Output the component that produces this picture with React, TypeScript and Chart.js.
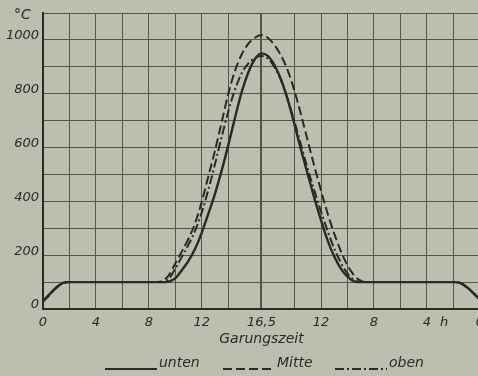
import React, { useEffect, useRef } from "react";
import { Chart, registerables } from "chart.js";

Chart.register(...registerables);

// Time axis (hours): 0 … 16.5 heating, then 16.5 … 0 counted back (plotted as 16.5 … 33)
const TIME = [0, 0.5, 1, 1.5, 2, 4, 6, 8, 8.5, 9, 9.5, 10, 10.5, 11, 11.5, 12, 12.5, 13, 13.5, 14, 14.5, 15, 15.5, 16, 16.5, 17, 17.5, 18, 18.5, 19, 19.5, 20, 20.5, 21, 21.5, 22, 22.5, 23, 23.5, 24, 24.5, 26, 28, 30, 31, 31.5, 32, 32.5, 33];

const UNTEN = [30, 55, 80, 97, 100, 100, 100, 100, 100, 100, 102, 115, 145, 180, 225, 285, 355, 430, 515, 610, 710, 805, 878, 928, 950, 940, 905, 850, 775, 685, 590, 500, 412, 330, 255, 195, 150, 120, 103, 100, 100, 100, 100, 100, 100, 97, 82, 60, 35];
const MITTE = [28, 52, 78, 96, 100, 100, 100, 100, 100, 105, 125, 170, 215, 262, 320, 400, 495, 590, 695, 800, 885, 945, 985, 1008, 1018, 1007, 980, 940, 885, 810, 720, 625, 530, 440, 355, 280, 215, 162, 125, 105, 100, 100, 100, 100, 100, 97, 82, 58, 33];
const OBEN = [29, 54, 79, 96, 100, 100, 100, 100, 100, 100, 112, 150, 195, 240, 292, 360, 445, 540, 640, 735, 815, 875, 912, 933, 940, 930, 898, 848, 778, 695, 608, 520, 440, 362, 290, 225, 172, 132, 108, 100, 100, 100, 100, 100, 100, 97, 82, 59, 34];

const SERIES_NAMES = ["unten", "Mitte", "oben"];
const X_GRID = [0, 2, 4, 6, 8, 10, 12, 14, 16.5, 19, 21, 23, 25, 27, 29, 31, 33];
const X_TICK_VALUES = [0, 4, 8, 12, 16.5, 21, 25, 29, 33];
const X_TICK_LABELS = ["0", "4", "8", "12", "16,5", "12", "8", "4", "0"];
const Y_TICK_LABELS = [0, 200, 400, 600, 800, 1000];
const X_TITLE = "Garungszeit";
const Y_UNIT = "°C";
const X_UNIT = "h";

const BG = "#bebeb0";
const INK = "#2a2a24";
const GRID = "#55554b";
const FONT = '"DejaVu Sans", sans-serif';

const DASHES = [[], [9, 4], [9, 3, 2, 3]];

const decor = {
  id: "decor",
  beforeDraw(chart: any) {
    const { ctx, width, height } = chart;
    ctx.save();
    ctx.fillStyle = BG;
    ctx.fillRect(0, 0, width, height);
    ctx.restore();
  },
  afterDraw(chart: any) {
    const ctx = chart.ctx;
    const xs = chart.scales.x;
    ctx.save();
    ctx.fillStyle = INK;
    ctx.strokeStyle = INK;
    ctx.font = `italic 14px ${FONT}`;
    ctx.textBaseline = "middle";
    ctx.textAlign = "left";
    ctx.fillText(Y_UNIT, 14, 15);
    ctx.font = `italic 13px ${FONT}`;
    ctx.textAlign = "center";
    ctx.fillText(X_UNIT, xs.getPixelForValue(30.3), 323);
    // legend
    const items = [
      { x0: 105, x1: 157 },
      { x0: 223, x1: 275 },
      { x0: 335, x1: 387 },
    ];
    ctx.font = `italic 14px ${FONT}`;
    ctx.textAlign = "left";
    items.forEach((it, i) => {
      ctx.beginPath();
      ctx.lineWidth = 2;
      ctx.setLineDash(DASHES[i]);
      ctx.moveTo(it.x0, 369);
      ctx.lineTo(it.x1, 369);
      ctx.stroke();
      ctx.setLineDash([]);
      ctx.fillText(SERIES_NAMES[i], it.x1 + 2, 363);
    });
    ctx.restore();
  },
};

export default function App() {
  const ref = useRef<HTMLCanvasElement | null>(null);
  useEffect(() => {
    if (!ref.current) return;
    const series = [UNTEN, MITTE, OBEN];
    const chart = new Chart(ref.current, {
      type: "line",
      data: {
        datasets: series.map((vals, i) => ({
          label: SERIES_NAMES[i],
          data: TIME.map((t, j) => ({ x: t, y: vals[j] })),
          borderColor: INK,
          borderWidth: i === 0 ? 2.4 : 2,
          borderDash: DASHES[i],
          pointRadius: 0,
          fill: false,
          cubicInterpolationMode: "monotone" as const,
        })),
      },
      options: {
        responsive: false,
        animation: false,
        layout: { padding: { top: 13, right: 7, bottom: 27, left: 0 } },
        plugins: {
          legend: { display: false },
          tooltip: { enabled: false },
        },
        scales: {
          x: {
            type: "linear",
            min: 0,
            max: 33,
            afterBuildTicks: (s: any) => {
              s.ticks = X_GRID.map((v) => ({ value: v }));
            },
            afterFit: (s: any) => {
              s.height = 40;
            },
            ticks: {
              autoSkip: false,
              maxRotation: 0,
              padding: 6,
              color: INK,
              font: { family: FONT, size: 13, style: "italic" },
              callback: (v: any) => {
                const k = X_TICK_VALUES.indexOf(Number(v));
                return k >= 0 ? X_TICK_LABELS[k] : "";
              },
            },
            grid: {
              color: GRID,
              lineWidth: (c: any) => (c.tick && c.tick.value === 16.5 ? 2 : 1),
              drawTicks: false,
            },
            border: { display: true, color: INK, width: 2 },
            title: {
              display: true,
              text: X_TITLE,
              color: INK,
              font: { family: FONT, size: 14, style: "italic" },
              padding: { top: 0, bottom: 1 },
            },
          },
          y: {
            type: "linear",
            min: 0,
            max: 1100,
            afterFit: (s: any) => {
              s.width = 43;
            },
            ticks: {
              stepSize: 100,
              padding: 4,
              labelOffset: -4,
              color: INK,
              font: { family: FONT, size: 13, style: "italic" },
              callback: (v: any) => (Y_TICK_LABELS.includes(Number(v)) ? String(v) : ""),
            },
            grid: { color: GRID, lineWidth: 1, drawTicks: false },
            border: { display: true, color: INK, width: 2 },
          },
        },
      },
      plugins: [decor],
    });
    return () => chart.destroy();
  }, []);
  return (
    <div
      style={{
        position: "fixed",
        left: 0,
        top: 0,
        width: 478,
        height: 376,
        overflow: "hidden",
        background: BG,
      }}
    >
      <canvas ref={ref} width={490} height={376} style={{ display: "block" }} />
    </div>
  );
}
